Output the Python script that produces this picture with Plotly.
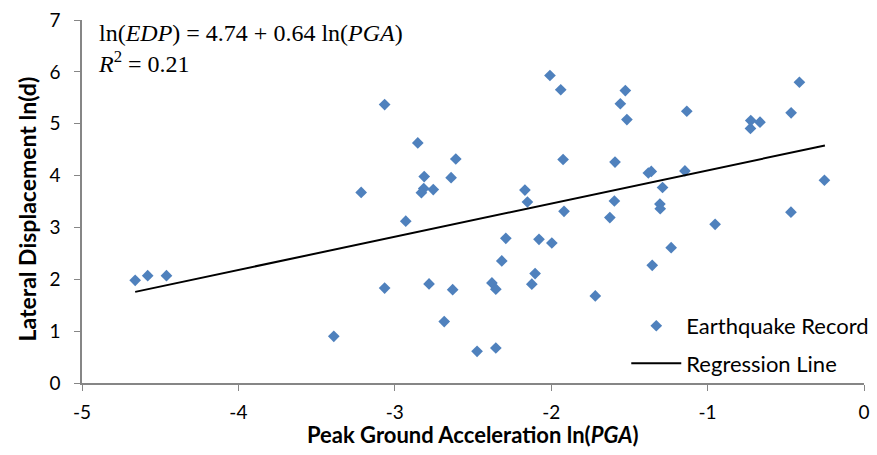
import plotly.graph_objects as go

pga_ln = [-4.66, -4.58, -4.46, -3.39, -3.215, -3.065, -3.065, -2.93, -2.853,
          -2.812, -2.815, -2.83, -2.754, -2.781, -2.684, -2.64, -2.61, -2.63,
          -2.474, -2.379, -2.354, -2.354, -2.316, -2.29, -2.168, -2.152,
          -2.124, -2.103, -2.078, -1.996, -2.008, -1.939, -1.924, -1.918,
          -1.718, -1.625, -1.596, -1.592, -1.558, -1.526, -1.516, -1.379,
          -1.36, -1.354, -1.305, -1.303, -1.288, -1.233, -1.145, -1.133,
          -0.952, -0.726, -0.724, -0.665, -0.467, -0.466, -0.413, -0.253]
disp_ln = [1.98, 2.07, 2.07, 0.90, 3.675, 5.37, 1.83, 3.12, 4.63,
           3.98, 3.75, 3.67, 3.73, 1.91, 1.185, 3.96, 4.32, 1.80,
           0.61, 1.93, 1.81, 0.675, 2.355, 2.79, 3.72, 3.49,
           1.905, 2.11, 2.77, 2.70, 5.93, 5.655, 4.31, 3.31,
           1.68, 3.19, 3.51, 4.26, 5.385, 5.64, 5.08, 4.05,
           4.08, 2.27, 3.45, 3.36, 3.77, 2.61, 4.09, 5.24,
           3.06, 4.91, 5.06, 5.03, 3.295, 5.21, 5.80, 3.91]

intercept = 4.74
slope = 0.64
line_x = [-4.66, -0.25]
line_y = [intercept + slope * v for v in line_x]

x_ticks = [-5, -4, -3, -2, -1, 0]
x_tick_text = ["-5", "-4", "-3", "-2", "-1", "0"]
y_ticks = [0, 1, 2, 3, 4, 5, 6, 7]

fig = go.Figure()
fig.add_trace(go.Scatter(
    x=pga_ln, y=disp_ln, mode="markers", name="Earthquake Record",
    legendgroup="a",
    marker=dict(symbol="diamond", size=9, color="#4F81BD"),
))
fig.add_trace(go.Scatter(
    x=line_x, y=line_y, mode="lines", name="Regression Line",
    legendgroup="b",
    line=dict(color="black", width=2),
))

axis_common = dict(
    showgrid=False, zeroline=False, showline=True, linecolor="#868686",
    linewidth=1.5, ticks="outside", tickcolor="#868686", ticklen=6,
    tickfont=dict(family="Lato", size=19, color="black"),
    automargin=False,
)

fig.update_layout(
    width=877, height=455,
    margin=dict(l=82, r=3, t=20, b=72),
    plot_bgcolor="white", paper_bgcolor="white",
    xaxis=dict(range=[-5, 0], tickvals=x_ticks, ticktext=x_tick_text,
               ticklabelstandoff=5, **axis_common),
    yaxis=dict(range=[0, 7], tickvals=y_ticks, ticklabelstandoff=10,
               **axis_common),
    legend=dict(x=0.696, y=0.215, xanchor="left", yanchor="top",
                traceorder="grouped", tracegroupgap=6, itemwidth=50,
                font=dict(family="Lato", size=22, color="black"),
                bgcolor="rgba(0,0,0,0)"),
    annotations=[
        dict(xref="paper", yref="paper", x=0.018, y=1.005, xanchor="left",
             yanchor="top", align="left", showarrow=False,
             text="ln(<i>EDP</i>) = 4.74 + 0.64 ln(<i>PGA</i>)<br><i>R</i><sup>2</sup> = 0.21",
             font=dict(family="Liberation Serif", size=24, color="black")),
        dict(xref="paper", yref="paper", x=0.5, y=0, yshift=-51,
             xanchor="center", yanchor="middle", showarrow=False,
             text="Peak Ground Acceleration ln(<i>PGA</i>)",
             font=dict(family="Lato", size=22, color="black", weight="bold")),
        dict(xref="paper", yref="paper", x=0, xshift=-56, y=0.5, yshift=-8,
             xanchor="center", yanchor="middle", showarrow=False,
             textangle=-90, text="Lateral Displacement ln(d)",
             font=dict(family="Lato", size=23, color="black", weight="bold")),
    ],
)

fig.write_html("out.html",
               config={"displayModeBar": False},
               post_script="document.body.style.margin='0px';"
                           "document.body.style.overflow='hidden';")
